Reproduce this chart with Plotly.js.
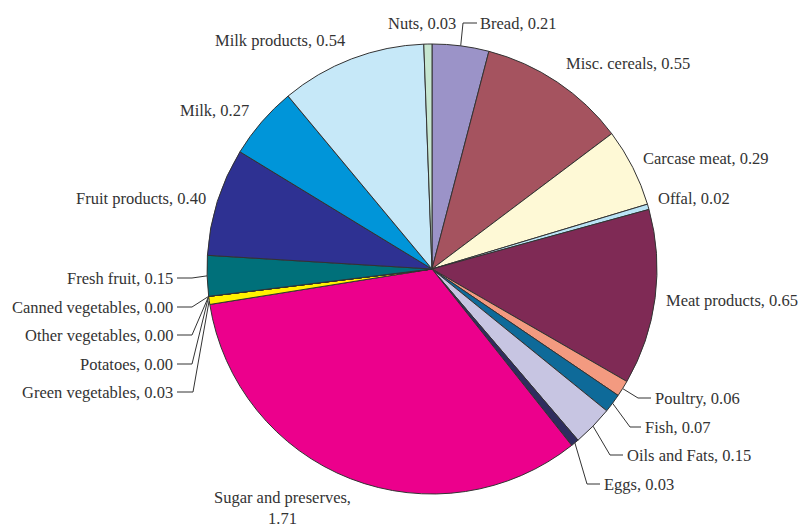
<!DOCTYPE html>
<html>
<head>
<meta charset="utf-8">
<script src="https://cdn.plot.ly/plotly-3.0.1.min.js"></script>
<style>html,body{margin:0;padding:0;background:#fff;}#chart{width:800px;height:527px;}</style>
</head>
<body>
<div id="chart"></div>
<script>
// ---- data (clockwise from 12 o'clock) ----
const categories = ["Bread","Misc. cereals","Carcase meat","Offal","Meat products","Poultry","Fish","Oils and Fats","Eggs","Sugar and preserves","Green vegetables","Potatoes","Other vegetables","Canned vegetables","Fresh fruit","Fruit products","Milk","Milk products","Nuts"];
const values = [0.21,0.55,0.29,0.02,0.65,0.06,0.07,0.15,0.03,1.71,0.03,0.00,0.00,0.00,0.15,0.40,0.27,0.54,0.03];
const sliceColors = ["#9b93c8","#a5535f","#fef9d6","#b9e3f5","#7f2a55","#f39a80","#0e6a99","#c7c5e2","#2e2d5e","#ec008c","#fff200","#e8e8e8","#d8d8d8","#c8c8c8","#00707a","#2e3192","#0095d9","#c6e8f8","#c6e6d0"];

// ---- layout geometry (pixels) ----
const W = 800, H = 527;
const cx = 432, cy = 269, R = 225;
const labelLayout = {
  "Bread":               {x:478, y:23,  a:"left",  line:[[477,23],[463,23]]},
  "Misc. cereals":       {x:564, y:63,  a:"left"},
  "Carcase meat":        {x:641, y:158, a:"left"},
  "Offal":               {x:656, y:198, a:"left"},
  "Meat products":       {x:664, y:300, a:"left"},
  "Poultry":             {x:653, y:398, a:"left",  line:[[651,398],[638,398]]},
  "Fish":                {x:643, y:427, a:"left",  line:[[641,427],[630,427]]},
  "Oils and Fats":       {x:625, y:455, a:"left",  line:[[623,455],[610,455]]},
  "Eggs":                {x:602, y:484, a:"left",  line:[[600,484],[587,484]]},
  "Sugar and preserves": {x:282, y:508, a:"center", br:true},
  "Green vegetables":    {x:175, y:392, a:"right", line:[[177,392],[193,392]]},
  "Potatoes":            {x:175, y:364, a:"right", line:[[177,364],[192,364]]},
  "Other vegetables":    {x:175, y:335, a:"right", line:[[177,335],[192,335]]},
  "Canned vegetables":   {x:175, y:307, a:"right", line:[[177,307],[192,307]]},
  "Fresh fruit":         {x:175, y:278, a:"right", line:[[177,278],[192,278]]},
  "Fruit products":      {x:208, y:198, a:"right"},
  "Milk":                {x:251, y:110, a:"right"},
  "Milk products":       {x:347, y:40,  a:"right"},
  "Nuts":                {x:458, y:23,  a:"right"}
};

const total = values.reduce((s,v)=>s+v,0);
function edgePoint(i){
  let cum = 0;
  for (let k=0;k<i;k++) cum += values[k];
  const frac = (cum + values[i]/2)/total;
  const ang = frac*2*Math.PI;
  return [cx + R*Math.sin(ang), cy - R*Math.cos(ang)];
}

const traces = [{
  type:"pie",
  labels:categories,
  values:values,
  sort:false,
  direction:"clockwise",
  rotation:0,
  textinfo:"none",
  hoverinfo:"label+value",
  marker:{colors:sliceColors, line:{color:"#333333", width:1}},
  domain:{x:[(cx-R)/W,(cx+R)/W], y:[(H-cy-R)/H,(H-cy+R)/H]},
  showlegend:false
}];

const annotations = [];
categories.forEach((c,i)=>{
  const L = labelLayout[c];
  const txt = L.br ? `${c},<br>${values[i].toFixed(2)}` : `${c}, ${values[i].toFixed(2)}`;
  annotations.push({
    xref:"x", yref:"y", x:L.x, y:L.y, text:txt, showarrow:false,
    xanchor:L.a, yanchor:"middle", align:"center",
    font:{family:"Liberation Serif, Times New Roman, serif", size:16.5, color:"#333333"}
  });
  if (L.line){
    const e = edgePoint(i);
    const pts = L.line.concat([e]);
    traces.push({
      type:"scatter", mode:"lines", xaxis:"x", yaxis:"y",
      x:pts.map(p=>p[0]), y:pts.map(p=>p[1]),
      line:{color:"#333333", width:1}, hoverinfo:"skip", showlegend:false
    });
  }
});

const layout = {
  width:W, height:H,
  margin:{l:0,r:0,t:0,b:0},
  paper_bgcolor:"#ffffff", plot_bgcolor:"rgba(0,0,0,0)",
  showlegend:false,
  xaxis:{range:[0,W], visible:false, fixedrange:true},
  yaxis:{range:[H,0], visible:false, fixedrange:true},
  annotations:annotations
};
Plotly.newPlot("chart", traces, layout, {displayModeBar:false, staticPlot:true});
</script>
</body>
</html>
